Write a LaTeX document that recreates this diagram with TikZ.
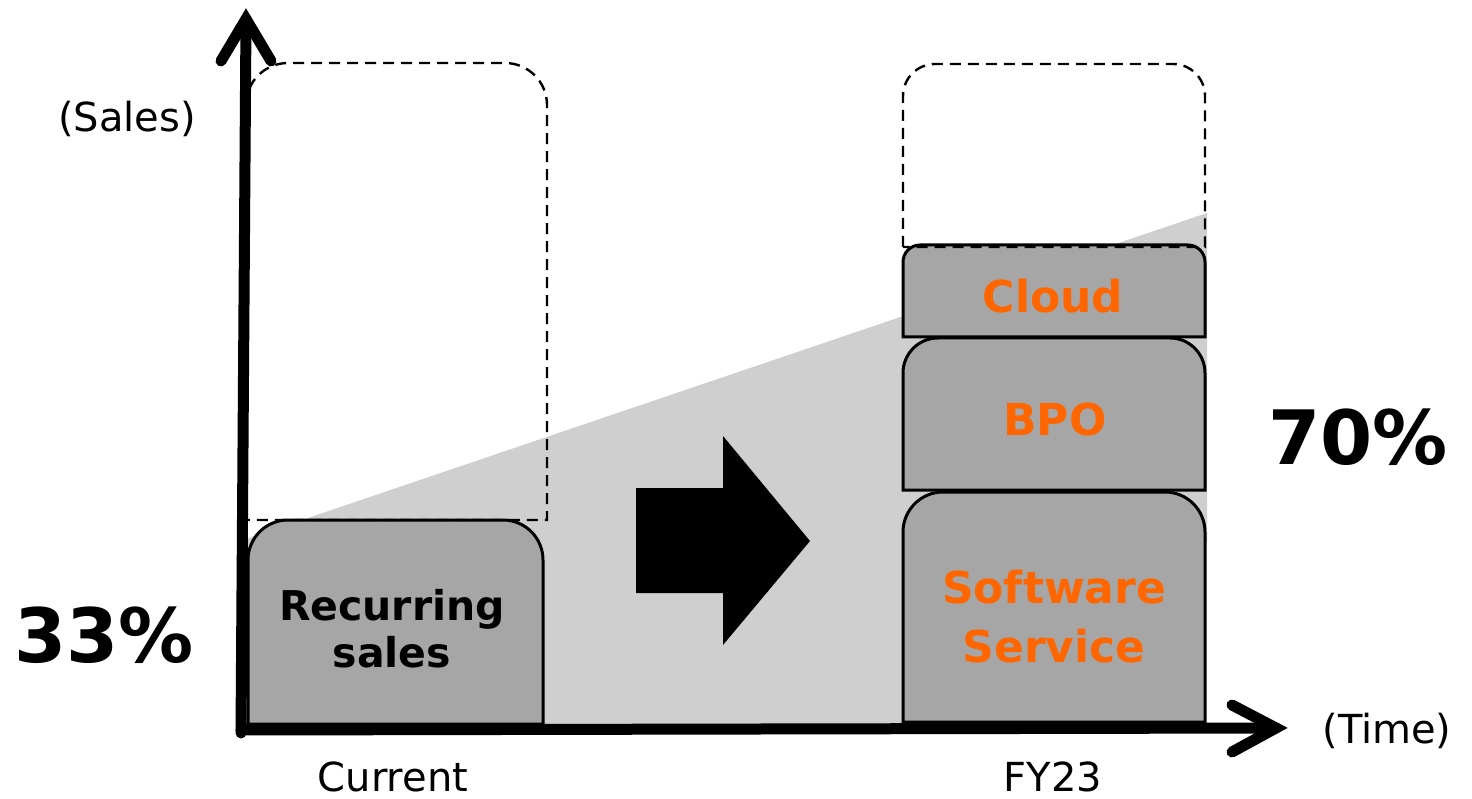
\documentclass[tikz,border=0pt]{standalone}
\usepackage{fontspec}
\setmainfont{DejaVu Sans}
\definecolor{orangeT}{HTML}{FF6600}
\definecolor{barG}{HTML}{A6A6A6}
\definecolor{wedgeG}{HTML}{D0CFD0}
\newcommand\toprect[6]{\path[#1] (#2,#5) -- (#2,#3+#6) arc[start angle=180,end angle=270,radius=#6] -- (#4-#6,#3) arc[start angle=270,end angle=360,radius=#6] -- (#4,#5) -- cycle;}
\begin{document}
\begin{tikzpicture}[x=1pt,y=-1pt,
  lbl/.style={inner sep=0pt, anchor=base, font=\fontsize{40}{48}\selectfont},
  pct/.style={inner sep=0pt, anchor=base, font=\fontsize{75}{90}\selectfont\bfseries},
  seg/.style={inner sep=0pt, anchor=base, text=orangeT, font=\fontsize{44}{53}\selectfont\bfseries},
  rec/.style={inner sep=0pt, anchor=base, text=black, font=\fontsize{41}{49}\selectfont\bfseries},
  barbox/.style={fill=barG, draw=black, line width=3pt},
  ghost/.style={draw=black, line width=2.4pt, dash pattern=on 11pt off 7pt},
  axis/.style={draw=black, line width=11pt, line cap=round},
]
\useasboundingbox (0,0) rectangle (1472,799);
% grey wedge
\fill[wedgeG] (243,540) -- (1207,213) -- (1207,542) -- (1100,542) -- (1100,728) -- (243,728) -- cycle;
% bars
\toprect{barbox}{248}{520}{543}{724}{40}
\toprect{barbox}{903}{492}{1205}{722}{40}
\toprect{barbox}{903}{338}{1205}{490}{35}
\toprect{barbox}{903}{245}{1205}{337}{17}
% dashed outlines
\toprect{ghost}{246}{63}{547}{520}{42}
\toprect{ghost}{903}{64}{1205}{247}{32}
% block arrow
\fill[black] (636,488) -- (723,488) -- (723,436) -- (810,541) -- (723,645) -- (723,593) -- (636,593) -- cycle;
% axes
\coordinate (origin) at (241,730);
\coordinate (ytip) at (246,19);
\coordinate (xtip) at (1276,728);
\draw[axis] (241,733) -- (ytip);
\draw[axis, line join=miter] (221,61) -- (ytip) -- (271,61);
\draw[axis] (origin) -- (xtip);
\draw[axis, line join=miter] (1232,705) -- (xtip) -- (1232,752);
% texts
\node[pct] (p33) at (104,662) {33\%};
\node[pct] (p70) at (1358,464) {70\%};
\node[lbl] (sales) at (127,132) {(Sales)};
\node[lbl] (time) at (1387,743) {(Time)};
\node[lbl] (cur) at (393,791) {Current};
\node[lbl] (fy) at (1053,791) {FY23};
\node[rec] (rec1) at (392,620) {Recurring};
\node[rec] (rec2) at (392,667) {sales};
\node[seg] (sw1) at (1054,603) {Software};
\node[seg] (sw2) at (1054,662) {Service};
\node[seg] (bpo) at (1055,435) {BPO};
\node[seg] (cloud) at (1053,313) {Cloud};
\end{tikzpicture}
\end{document}
